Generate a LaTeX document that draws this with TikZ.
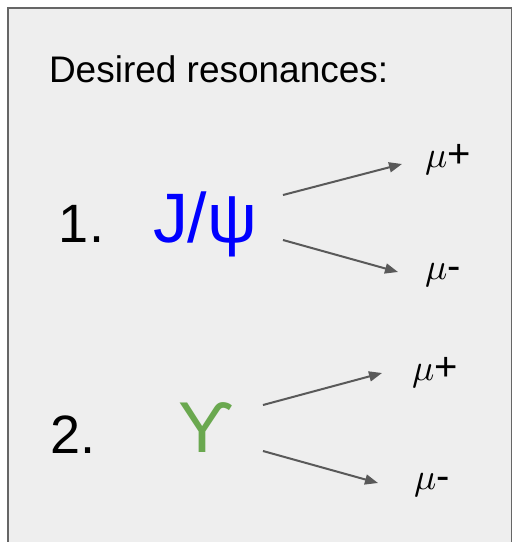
\documentclass[tikz,border=0pt]{standalone}
\usepackage{fontspec}
\setmainfont{Liberation Sans}
\usetikzlibrary{arrows.meta}
\definecolor{boxfill}{HTML}{EEEEEE}
\definecolor{boxline}{HTML}{666666}
\definecolor{arrowgray}{HTML}{595959}
\definecolor{jpsiblue}{HTML}{0000FF}
\definecolor{upsgreen}{HTML}{6AA84F}
\tikzset{
  txt/.style={inner sep=0pt, outer sep=0pt, anchor=base west},
  decay/.style={draw=arrowgray, line width=2pt, -{Triangle[length=13pt,width=10pt]}},
  mulabel/.style={txt},
}
\newcommand{\mylabel}[1]{\scalebox{3.7}{$\mu$}{\fontsize{40}{40}\selectfont #1}}
\begin{document}
\begin{tikzpicture}[x=1pt,y=-1pt]
\useasboundingbox (0,0) rectangle (512,542);
\clip (0,0) rectangle (512,542);
\fill[white] (0,0) rectangle (512,542);
\draw[draw=boxline, fill=boxfill, line width=2pt] (8,8) rectangle (512,570);

\node[txt] (title) at (49,82) {\fontsize{37}{40}\selectfont Desired resonances:};

\node[txt] (n1) at (59,242) {\fontsize{54}{60}\selectfont 1.};
\node[txt, text=jpsiblue] (jpsi) at (153,242) {\fontsize{70}{76}\selectfont J/ψ};
\node[mulabel] (mu1p) at (425,167) {\mylabel{+}};
\node[mulabel] (mu1m) at (425,279) {\mylabel{-}};

\node[txt] (n2) at (50,453) {\fontsize{54}{60}\selectfont 2.};
\node[txt, text=upsgreen] (ups) at (178,452) {\fontsize{72}{80}\selectfont Ƴ};
\node[mulabel] (mu2p) at (412,380) {\mylabel{+}};
\node[mulabel] (mu2m) at (414,489) {\mylabel{-}};

\coordinate (a1s) at (283,195); \coordinate (a1e) at (402,164);
\coordinate (a2s) at (283,240); \coordinate (a2e) at (398,272);
\coordinate (b1s) at (263,405); \coordinate (b1e) at (382,373);
\coordinate (b2s) at (263,451); \coordinate (b2e) at (378,483);

\draw[decay] (a1s) -- (a1e);
\draw[decay] (a2s) -- (a2e);
\draw[decay] (b1s) -- (b1e);
\draw[decay] (b2s) -- (b2e);
\end{tikzpicture}
\end{document}
